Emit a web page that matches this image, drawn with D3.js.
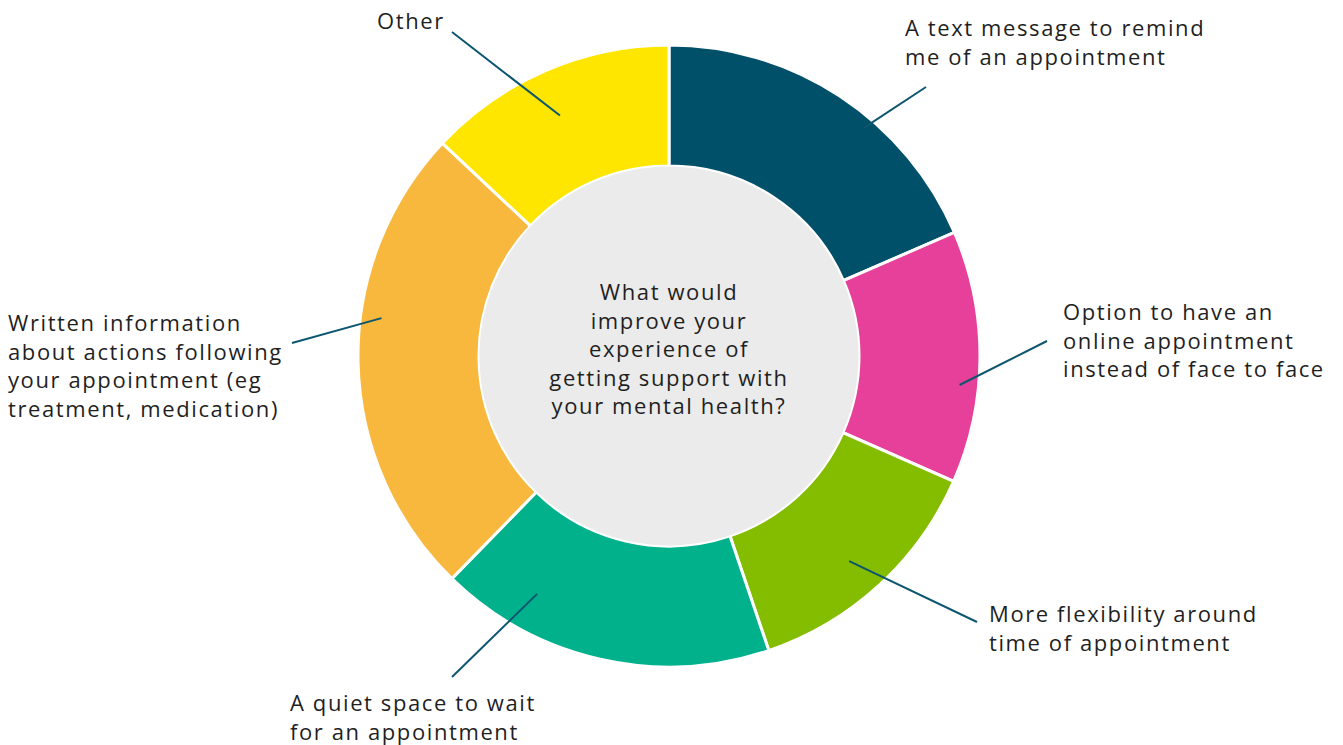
<!DOCTYPE html>
<html>
<head>
<meta charset="utf-8">
<script src="https://cdn.jsdelivr.net/npm/d3@7"></script>
<style>
  html, body { margin: 0; padding: 0; background: #ffffff; }
  svg { display: block; }
  text { font-family: "Open Sans", "DejaVu Sans", sans-serif; fill: #1f1f1f; letter-spacing: 1.6px; }
</style>
</head>
<body>
<svg id="chart" width="1343" height="745"></svg>
<script>
// Survey responses, share of mentions (%)
const categories = [
  "A text message to remind me of an appointment",
  "Option to have an online appointment instead of face to face",
  "More flexibility around time of appointment",
  "A quiet space to wait for an appointment",
  "Written information about actions following your appointment (eg treatment, medication)",
  "Other"
];
const shares = [18.5, 13.1, 13.2, 17.5, 24.7, 13.0];
const colors = ["#005069", "#e6409a", "#84bd00", "#00b18c", "#f8b83e", "#ffe600"];

const question = ["What would", "improve your", "experience of", "getting support with", "your mental health?"];

// Wrapped label lines and callout placement for each slice
const labelLines = [
  ["A text message to remind", "me of an appointment"],
  ["Option to have an", "online appointment", "instead of face to face"],
  ["More flexibility around", "time of appointment"],
  ["A quiet space to wait", "for an appointment"],
  ["Written information", "about actions following", "your appointment (eg", "treatment, medication)"],
  ["Other"]
];
const labelAt = [
  { x: 905, y: 36, lx: 926, ly: 87, a: 40.5, r: 300 },
  { x: 1063, y: 320, lx: 1047, ly: 341, a: 95.7, r: 292 },
  { x: 989, y: 622, lx: 977, ly: 622, a: 138.7, r: 273 },
  { x: 290, y: 711, lx: 452, ly: 677, a: 209, r: 272 },
  { x: 8, y: 331, lx: 292, ly: 343, a: 277.5, r: 290 },
  { x: 377, y: 29, lx: 452, ly: 32, a: 335.6, r: 264 }
];

const cx = 669, cy = 356;
const outerR = 311, innerR = 190;
const fontSize = 22, lineH = 28.6;

const svg = d3.select("#chart");
const g = svg.append("g").attr("transform", `translate(${cx},${cy})`);

const pie = d3.pie().sort(null).value(d => d)(shares);
const arc = d3.arc().innerRadius(innerR).outerRadius(outerR);

g.selectAll("path.slice")
  .data(pie)
  .join("path")
  .attr("class", "slice")
  .attr("d", arc)
  .attr("fill", (d, i) => colors[i])
  .attr("stroke", "#ffffff")
  .attr("stroke-width", 3)
  .attr("stroke-linejoin", "miter");

g.append("circle")
  .attr("r", innerR - 0.5)
  .attr("fill", "#ebebeb");

// question in the hole
const q = g.append("text")
  .attr("text-anchor", "middle")
  .attr("font-size", fontSize);
question.forEach((line, i) => {
  q.append("tspan").attr("x", 0).attr("y", 300 - cy + i * lineH).text(line);
});

// callout lines
const rad = deg => deg * Math.PI / 180;
svg.selectAll("line.leader")
  .data(labelAt)
  .join("line")
  .attr("class", "leader")
  .attr("x1", d => d.lx)
  .attr("y1", d => d.ly)
  .attr("x2", d => cx + d.r * Math.sin(rad(d.a)))
  .attr("y2", d => cy - d.r * Math.cos(rad(d.a)))
  .attr("stroke", "#0d566f")
  .attr("stroke-width", 2);

// slice labels
svg.selectAll("text.label")
  .data(labelLines)
  .join("text")
  .attr("class", "label")
  .attr("font-size", fontSize)
  .each(function (lines, i) {
    const t = d3.select(this);
    lines.forEach((line, j) => {
      t.append("tspan")
        .attr("x", labelAt[i].x)
        .attr("y", labelAt[i].y + j * lineH)
        .text(line);
    });
  });
</script>
</body>
</html>
